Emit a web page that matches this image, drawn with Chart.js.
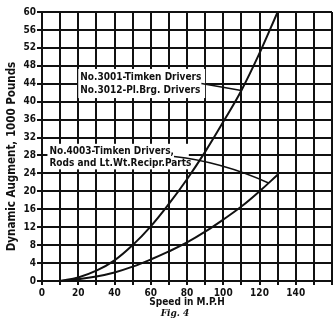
<!DOCTYPE html>
<html>
<head>
<meta charset="utf-8">
<script src="https://cdn.jsdelivr.net/npm/chart.js@4"></script>
<style>
html,body{margin:0;padding:0;background:#fff;}
#wrap{width:334px;height:321px;position:relative;}
canvas{display:block;}
</style>
</head>
<body>
<div id="wrap"><canvas id="c" width="334" height="321"></canvas></div>
<script>
// ---- data ----
const speeds = [10, 20, 30, 40, 50, 60, 70, 80, 90, 100, 110, 120, 130];
const augmentTimkenDrivers = [0, 0.8, 2.3, 4.6, 8.0, 12.2, 17.2, 22.7, 28.8, 35.5, 42.5, 50.8, 60.0];
const augmentLightRecip = [0, 0.4, 1.0, 1.9, 3.2, 4.8, 6.6, 8.6, 11.0, 13.7, 16.6, 20.0, 23.7];
const seriesNames = ['No.3001-Timken Drivers / No.3012-Pl.Brg. Drivers', 'No.4003-Timken Drivers, Rods and Lt.Wt.Recipr.Parts'];
const label1Lines = ['No.3001-Timken Drivers', 'No.3012-Pl.Brg. Drivers'];
const label2Lines = ['No.4003-Timken Drivers,', 'Rods and Lt.Wt.Recipr.Parts'];
const xTickLabels = [0, 20, 40, 60, 80, 100, 120, 140];
const yTickStep = 4;
const xTitle = 'Speed in M.P.H';
const yTitle = 'Dynamic Augment, 1000 Pounds';
const figCaption = 'Fig. 4';

const FONT = "'DejaVu Sans Condensed','Liberation Sans Narrow','Liberation Sans',sans-serif";
const INK = '#111';

const annotations = [
  {lines: label1Lines, box: {x0: 20, x1: 90, yTop: 47.3, yBot: 40.8}, dataset: 0, idxA: 10, idxB: 10, bow: 0},
  {lines: label2Lines, box: {x0: 3, x1: 81, yTop: 30.6, yBot: 24.9}, dataset: 1, idxA: 11, idxB: 12, bow: -8}
];

const textPlugin = {
  id: 'figText',
  afterDatasetsDraw(chart) {
    const ctx = chart.ctx;
    const xs = chart.scales.x, ys = chart.scales.y;
    ctx.save();
    annotations.forEach((a, k) => {
      const L = xs.getPixelForValue(a.box.x0), R = xs.getPixelForValue(a.box.x1);
      const T = ys.getPixelForValue(a.box.yTop), B = ys.getPixelForValue(a.box.yBot);
      ctx.fillStyle = '#fff';
      ctx.fillRect(L, T, R - L, B - T);
      ctx.fillStyle = INK;
      ctx.font = 'bold 10px ' + FONT;
      ctx.textBaseline = 'middle';
      ctx.textAlign = 'left';
      const lh = (B - T) / 2;
      ctx.fillText(a.lines[0], L + 2, T + lh * 0.5 + 1);
      ctx.fillText(a.lines[1], L + 2, T + lh * 1.5);
      // leader line to curve
      const meta = chart.getDatasetMeta(a.dataset);
      const pA = meta.data[a.idxA], pB = meta.data[a.idxB];
      const tx = (pA.x + pB.x) / 2, ty = (pA.y + pB.y) / 2;
      const w0 = ctx.measureText(a.lines[0]).width;
      const sx = L + 2 + w0, sy = T + lh;
      ctx.strokeStyle = INK;
      ctx.lineWidth = 1.5;
      ctx.beginPath();
      ctx.moveTo(sx, sy);
      ctx.quadraticCurveTo((sx + tx) / 2, (sy + ty) / 2 + a.bow, tx, ty);
      ctx.stroke();
    });
    ctx.restore();
  },
  afterDraw(chart) {
    const ctx = chart.ctx;
    const ca = chart.chartArea;
    ctx.save();
    ctx.fillStyle = INK;
    ctx.textAlign = 'center';
    ctx.textBaseline = 'middle';
    ctx.font = 'bold 10px ' + FONT;
    ctx.fillText(xTitle, (ca.left + ca.right) / 2, ca.bottom + 21);
    ctx.font = 'bold italic 9px ' + "'DejaVu Serif','Liberation Serif',serif";
    ctx.fillText(figCaption, 175, ca.bottom + 33);
    ctx.translate(12, (ca.top + ca.bottom) / 2 + 10);
    ctx.rotate(-Math.PI / 2);
    ctx.font = 'bold 11.5px ' + FONT;
    ctx.fillText(yTitle, 0, 0);
    ctx.restore();
  }
};

new Chart(document.getElementById('c'), {
  type: 'line',
  data: {
    datasets: [
      {label: seriesNames[0], data: speeds.map((s, i) => ({x: s, y: augmentTimkenDrivers[i]}))},
      {label: seriesNames[1], data: speeds.map((s, i) => ({x: s, y: augmentLightRecip[i]}))}
    ].map(d => Object.assign(d, {borderColor: INK, borderWidth: 2, pointRadius: 0, tension: 0.4, fill: false}))
  },
  options: {
    responsive: false,
    animation: false,
    layout: {padding: {top: 12, right: 0, left: 0, bottom: 0}},
    plugins: {legend: {display: false}, tooltip: {enabled: false}, title: {display: false}},
    scales: {
      x: {
        type: 'linear', min: 0, max: 160,
        afterFit(s) { s.height = 40; },
        grid: {color: INK, lineWidth: 2, tickLength: 4, drawTicks: true},
        border: {color: INK, width: 2},
        ticks: {
          stepSize: 10, autoSkip: false, maxRotation: 0, padding: 2,
          color: INK, font: {family: FONT, size: 10, weight: 'bold'},
          callback: v => xTickLabels.includes(v) ? String(v) : ''
        }
      },
      y: {
        type: 'linear', min: 0, max: 60,
        afterFit(s) { s.width = 42; },
        grid: {color: INK, lineWidth: 2, tickLength: 5},
        border: {color: INK, width: 2},
        ticks: {
          stepSize: yTickStep, autoSkip: false, padding: 1,
          color: INK, font: {family: FONT, size: 10, weight: 'bold'}
        }
      }
    }
  },
  plugins: [textPlugin]
});
</script>
</body>
</html>
